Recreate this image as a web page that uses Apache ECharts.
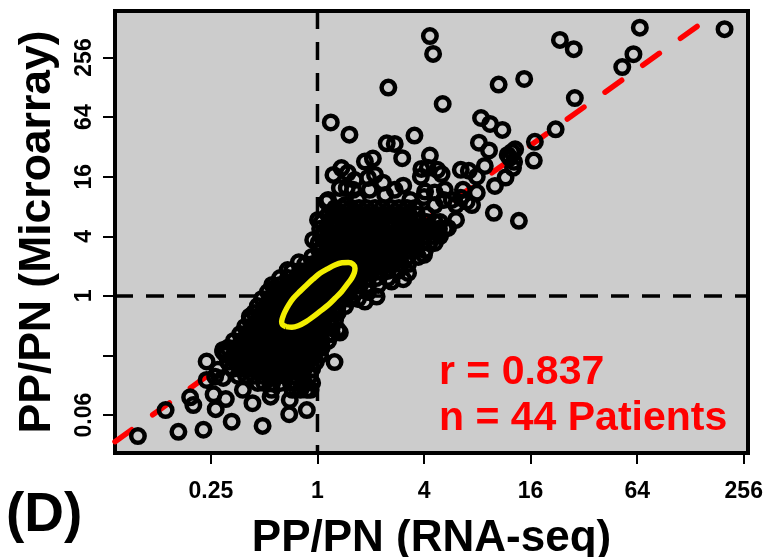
<!DOCTYPE html>
<html><head><meta charset="utf-8">
<style>html,body{margin:0;padding:0;background:#fff}#c{width:768px;height:557px}</style>
<script src="https://cdn.jsdelivr.net/npm/echarts@6/dist/echarts.min.js"></script>
</head><body><div id="c"></div>
<script>
// All values are log2(PP/PN); labels show the fold ratios.
const xTickValues=[-2,0,2,4,6,8];
const xTickLabels=["0.25","1","4","16","64","256"];
const yTickValues=[-4,-2,0,2,4,6,8];
const yTickLabels=["0.06","","1","4","16","64","256"];
const xRange=[-3.8,8.08];
const yRange=[-5.27,9.56];
const fitLine=[[-3.8,-4.89],[7.21,9.15]];
const ellipse=[[-0.591,-1.03],[-0.66,-0.96],[-0.672,-0.862],[-0.65,-0.70],[-0.61,-0.527],[-0.54,-0.30],[-0.454,-0.078],[-0.33,0.15],[-0.203,0.369],[-0.08,0.57],[0.047,0.761],[0.19,0.91],[0.328,1.04],[0.46,1.11],[0.578,1.118],[0.67,1.06],[0.704,0.929],[0.69,0.77],[0.642,0.594],[0.55,0.37],[0.454,0.144],[0.33,-0.08],[0.203,-0.302],[0.06,-0.50],[-0.079,-0.694],[-0.22,-0.87],[-0.36,-1.0],[-0.48,-1.05],[-0.591,-1.03]];
const sparsePoints=[[2.11,8.72],[2.17,8.12],[1.33,6.99],[2.35,6.44],[.25,5.82],[.60,5.41],[3.40,7.09],[3.88,7.28],[3.07,5.97],[3.24,5.77],[3.47,5.57],[1.82,5.38],[1.30,5.12],[1.45,5.10],[3.03,5.14],[3.22,4.88],[3.71,4.92],[3.57,4.73],[3.61,4.63],[3.65,4.83],[3.69,4.50],[4.08,5.17],[4.06,4.54],[2.11,4.71],[1.59,4.62],[1.04,4.61],[.89,4.51],[.45,4.29],[.30,4.06],[.57,4.13],[.95,3.96],[1.23,3.80],[1.61,3.70],[1.95,4.26],[1.94,4.00],[2.07,4.30],[2.25,4.23],[2.33,4.09],[2.69,4.23],[2.84,4.20],[2.99,4.00],[3.14,4.36],[3.67,4.30],[3.53,3.97],[3.33,3.69],[2.73,3.56],[2.99,3.46],[2.39,3.56],[2.02,3.50],[2.20,3.47],[.55,3.62],[.42,3.62],[.67,3.56],[.20,3.22],[6.05,9.00],[7.64,8.95],[4.55,8.59],[4.81,8.28],[5.93,8.11],[5.72,7.68],[4.83,6.64],[4.47,5.59],[3.31,2.79],[3.78,2.52],[2.69,3.29],[2.90,3.05],[2.52,3.22],[2.20,3.05],[2.60,3.05],[2.37,3.22],[2.00,3.32],[1.74,3.22],[1.27,3.39],[.98,3.56],[1.45,3.56],[.76,3.22],[.52,3.05],[.29,2.82],[.70,3.89],[1.08,4.06],[1.61,.56],[1.39,.48],[1.70,.77],[2.00,1.38],[2.27,2.11],[2.45,2.28],[2.60,2.55],[2.80,3.16],[1.11,-.02],[.89,-.19],[.42,-1.23],[.38,-1.14],[.32,-2.22],[-.56,.87],[-.35,1.13],[.17,3.16],[.01,2.55],[-.08,1.88],[-.80,.27],[-1.27,-.69],[-1.77,-1.81],[-3.37,-4.70],[-2.85,-3.83],[-2.61,-4.56],[-2.14,-4.49],[-1.61,-4.22],[-1.03,-4.36],[-2.39,-3.40],[-2.33,-3.66],[-1.91,-3.80],[-2.08,-2.20],[-2.08,-2.82],[-1.95,-3.30],[-1.72,-3.46],[-1.22,-3.60],[-.88,-3.38],[-.53,-3.97],[-.20,-3.83],[-.52,-3.49],[-.86,-3.15],[-1.40,-3.15],[-1.77,-2.75],[-1.92,-2.71],[-1.77,-1.87],[-1.87,-2.48]];
// Dense cloud, read row by row: [microarray, [RNA-seq values...]]
const denseRows=[
[2.95,[.33,.47,.63,.78,.92,1.08,1.22,1.38,1.53,1.68,1.83]],
[2.72,[.20,.36,.51,.66,.80,.96,1.11,1.26,1.41,1.57,1.72,1.87,2.05]],
[2.48,[.08,.24,.38,.54,.68,.84,.99,1.14,1.30,1.44,1.60,1.75,1.90,2.05,2.20,2.30]],
[2.25,[.05,.18,.33,.48,.63,.78,.93,1.08,1.23,1.38,1.53,1.68,1.83,1.98,2.13,2.28,2.39]],
[2.01,[.07,.22,.37,.52,.67,.82,.97,1.12,1.27,1.42,1.57,1.72,1.87,2.02,2.17,2.30]],
[1.78,[.02,.16,.31,.46,.61,.76,.91,1.06,1.21,1.36,1.51,1.66,1.81,1.96,2.10,2.20]],
[1.54,[.03,.19,.34,.49,.64,.79,.94,1.09,1.24,1.39,1.54,1.69,1.84,2.02]],
[1.31,[-.10,.05,.20,.35,.50,.65,.80,.95,1.10,1.25,1.40,1.55,1.70,1.89]],
[1.07,[-.23,-.08,.07,.22,.37,.52,.67,.82,.97,1.12,1.27,1.42,1.57,1.70]],
[.84,[-.48,-.33,-.18,-.03,.12,.27,.42,.57,.72,.87,1.02,1.17,1.32,1.51]],
[.60,[-.70,-.55,-.40,-.25,-.10,.05,.20,.35,.50,.65,.80,.95,1.10,1.32]],
[.37,[-.85,-.70,-.55,-.40,-.25,-.10,.05,.20,.35,.50,.65,.80,.95,1.14]],
[.13,[-.93,-.78,-.63,-.48,-.33,-.18,-.03,.12,.27,.42,.57,.72,.95]],
[-.10,[-1.04,-.89,-.74,-.59,-.44,-.29,-.14,.01,.16,.31,.46,.61,.76]],
[-.34,[-1.12,-.97,-.82,-.67,-.52,-.37,-.22,-.07,.08,.23,.38,.52]],
[-.57,[-1.19,-1.04,-.89,-.74,-.59,-.44,-.29,-.14,.01,.16,.30,.38]],
[-.81,[-1.27,-1.12,-.97,-.82,-.67,-.52,-.37,-.22,-.07,.08,.23,.33]],
[-1.04,[-1.36,-1.21,-1.06,-.91,-.76,-.61,-.46,-.31,-.16,-.01,.14,.27]],
[-1.28,[-1.45,-1.30,-1.15,-1.00,-.85,-.70,-.55,-.40,-.25,-.10,.05,.20,.27]],
[-1.51,[-1.57,-1.42,-1.27,-1.12,-.97,-.82,-.67,-.52,-.37,-.22,-.07,.08,.20]],
[-1.74,[-1.68,-1.53,-1.38,-1.23,-1.08,-.93,-.78,-.63,-.48,-.33,-.18,-.03,.08]],
[-1.98,[-1.72,-1.57,-1.42,-1.27,-1.12,-.97,-.82,-.67,-.52,-.37,-.22,-.07,.05]],
[-2.21,[-1.68,-1.53,-1.38,-1.23,-1.08,-.93,-.78,-.63,-.48,-.33,-.18,-.03]],
[-2.45,[-1.60,-1.45,-1.30,-1.15,-1.00,-.85,-.70,-.55,-.40,-.25,-.10]],
[-2.68,[-1.49,-1.34,-1.19,-1.04,-.89,-.74,-.59,-.44,-.29,-.14]],
[-2.92,[-1.12,-1.00,-.85,-.70,-.50,-.40,-.25,-.10]],
[-3.15,[-.47,-.32,-.20,-.13]]
];
const points=sparsePoints.concat(denseRows.flatMap(r=>r[1].map(x=>[x,r[0]])));
const FONT='"Liberation Sans",Arial,sans-serif';
const chart=echarts.init(document.getElementById('c'),null,{renderer:'canvas'});
chart.setOption({
 animation:false,backgroundColor:'#fff',
 grid:{left:115,top:11,width:633,height:442,show:true,outerBoundsMode:'none',containLabel:false,backgroundColor:'#cccccc',borderColor:'#000',borderWidth:4,z:0},
 xAxis:{type:'value',min:xRange[0],max:xRange[1],splitLine:{show:false},axisLine:{show:false,onZero:false},
  axisTick:{show:true,customValues:xTickValues,length:11,lineStyle:{color:'#000',width:2}},
  axisLabel:{customValues:xTickValues,formatter:v=>xTickLabels[xTickValues.indexOf(v)],fontFamily:FONT,fontWeight:'bold',fontSize:23,color:'#000',margin:27,hideOverlap:false,showMinLabel:true,showMaxLabel:true},
  name:'PP/PN (RNA-seq)',nameLocation:'middle',nameGap:64,nameTextStyle:{fontFamily:FONT,fontWeight:'bold',fontSize:44,color:'#000'}},
 yAxis:{type:'value',min:yRange[0],max:yRange[1],splitLine:{show:false},axisLine:{show:false,onZero:false},
  axisTick:{show:true,customValues:yTickValues,length:12,lineStyle:{color:'#000',width:2}},
  axisLabel:{customValues:yTickValues,formatter:v=>yTickLabels[yTickValues.indexOf(v)],rotate:90,align:'center',verticalAlign:'bottom',fontFamily:FONT,fontWeight:'bold',fontSize:23,color:'#000',margin:19,hideOverlap:false},
  name:'PP/PN (Microarray)',nameLocation:'middle',nameGap:55,nameTextStyle:{fontFamily:FONT,fontWeight:'bold',fontSize:44.5,color:'#000'}},
 series:[
  {type:'line',data:fitLine,symbol:'none',clip:true,z:2,lineStyle:{color:'#ff0000',width:5.5,type:[20.5,25.8],cap:'round'}},
  {type:'line',data:[[xRange[0],0],[xRange[1],0]],symbol:'none',z:3,lineStyle:{color:'#000',width:3.5,type:[18,13]}},
  {type:'line',data:[[0,yRange[1]],[0,yRange[0]]],symbol:'none',z:3,lineStyle:{color:'#000',width:3.5,type:[18,13]}},
  {type:'scatter',data:points,symbol:'circle',symbolSize:13.5,large:false,z:4,itemStyle:{color:'rgba(0,0,0,0)',borderColor:'#000',borderWidth:4.5,opacity:1}},
  {type:'line',data:ellipse,symbol:'none',smooth:0.3,z:5,lineStyle:{color:'#f2ee00',width:5.5}}
 ],
 graphic:[
  {type:'text',z:10,left:439,top:352,style:{text:'r = 0.837',fontFamily:FONT,fontWeight:'bold',fontSize:41,fill:'#ff0000'}},
  {type:'text',z:10,left:439,top:398,style:{text:'n = 44 Patients',fontFamily:FONT,fontWeight:'bold',fontSize:41,fill:'#ff0000'}},
  {type:'text',z:10,left:6,top:488,style:{text:'(D)',fontFamily:FONT,fontWeight:'bold',fontSize:55,fill:'#000'}}
 ]
});
</script></body></html>
